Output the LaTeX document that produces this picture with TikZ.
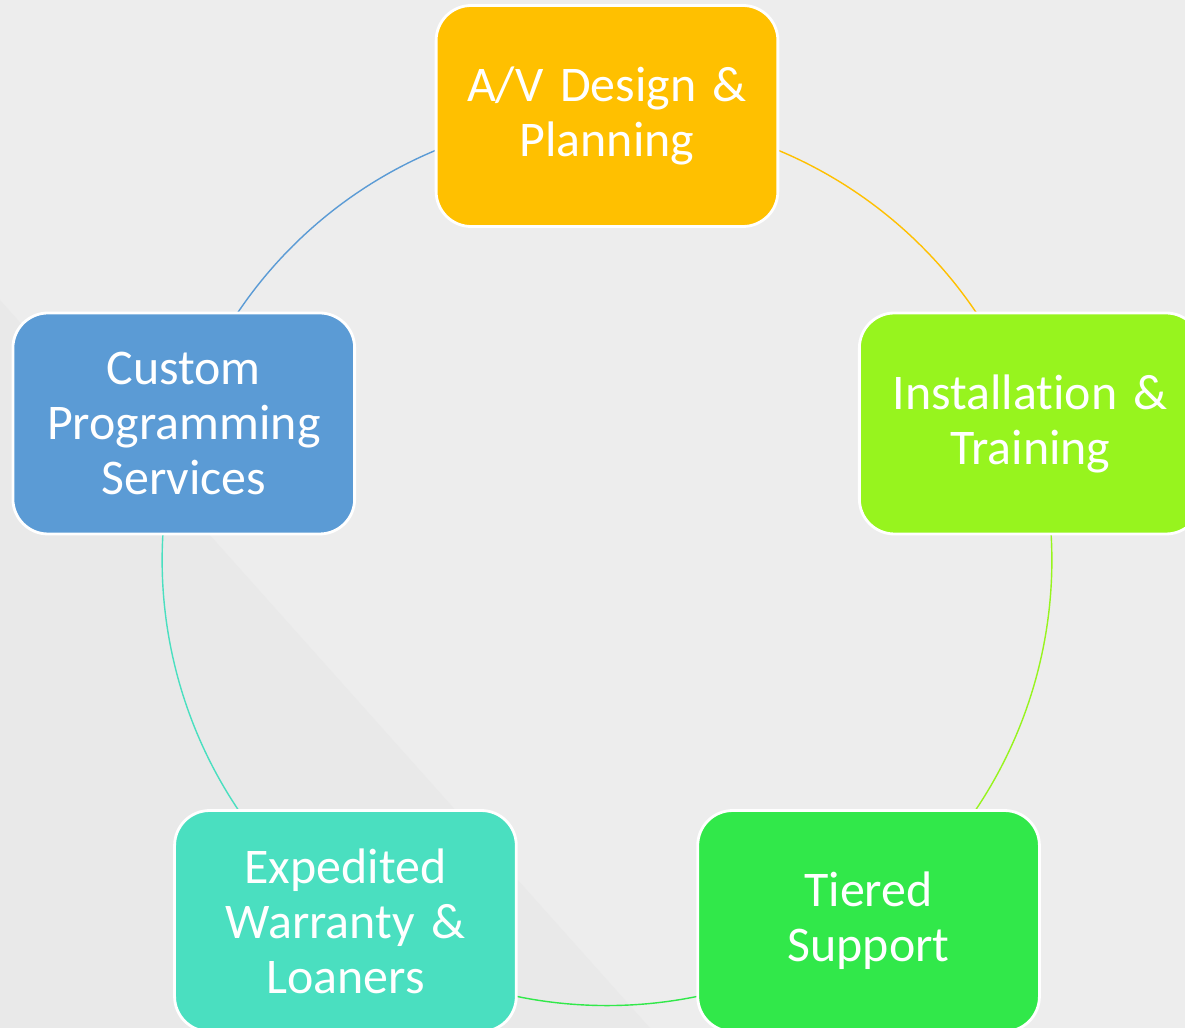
\documentclass[tikz,border=0pt]{standalone}
\usepackage{fontspec}
\setmainfont{Carlito}[RawFeature=-liga]
\usetikzlibrary{backgrounds, calc}

\definecolor{planfill}{HTML}{FFC000}
\definecolor{installfill}{HTML}{97F41E}
\definecolor{supportfill}{HTML}{31E84A}
\definecolor{warrantyfill}{HTML}{4ADFC0}
\definecolor{codefill}{HTML}{5B9BD5}
\definecolor{pagebg}{HTML}{EDEDED}
\definecolor{pageshade}{HTML}{E9E9E9}

\begin{document}
\begin{tikzpicture}[
    stepbox/.style={rectangle, rounded corners=0.7cm, draw=white, line width=1.6pt,
      minimum width=6.82cm, minimum height=4.42cm, text width=6.6cm, align=center,
      text=white, font=\fontsize{28.4}{31.3}\selectfont},
    link/.style={line width=0.8pt, bend left=36, looseness=0.94}
    ]
    \useasboundingbox (0,0) rectangle (23.7,-20.56);
    \coordinate (c) at (12.14,-11.22);

    \node[stepbox, fill=planfill] (plan) at ($(c)+(90:8.9)$) {A/V Design \&\\Planning};
    \node[stepbox, fill=installfill] (install) at ($(c)+(18:8.9)$) {Installation \&\\Training};
    \node[stepbox, fill=supportfill] (support) at ($(c)+(-54:8.9)$) {Tiered\\Support};
    \node[stepbox, fill=warrantyfill] (warranty) at ($(c)+(-126:8.9)$) {Expedited\\Warranty \&\\Loaners};
    \node[stepbox, fill=codefill] (code) at ($(c)+(162:8.9)$) {Custom\\Programming\\Services};

    \begin{scope}[on background layer]
      \fill[pagebg] (0,0) rectangle (23.7,-20.56);
      \fill[pageshade] (0,-6) -- (13,-20.56) -- (0,-20.56) -- cycle;

      \draw[link, planfill] (plan.center) to (install.center);
      \draw[link, installfill] (install.center) to (support.center);
      \draw[link, supportfill] (support.center) to (warranty.center);
      \draw[link, warrantyfill] (warranty.center) to (code.center);
      \draw[link, codefill] (code.center) to (plan.center);
    \end{scope}
\end{tikzpicture}
\end{document}
